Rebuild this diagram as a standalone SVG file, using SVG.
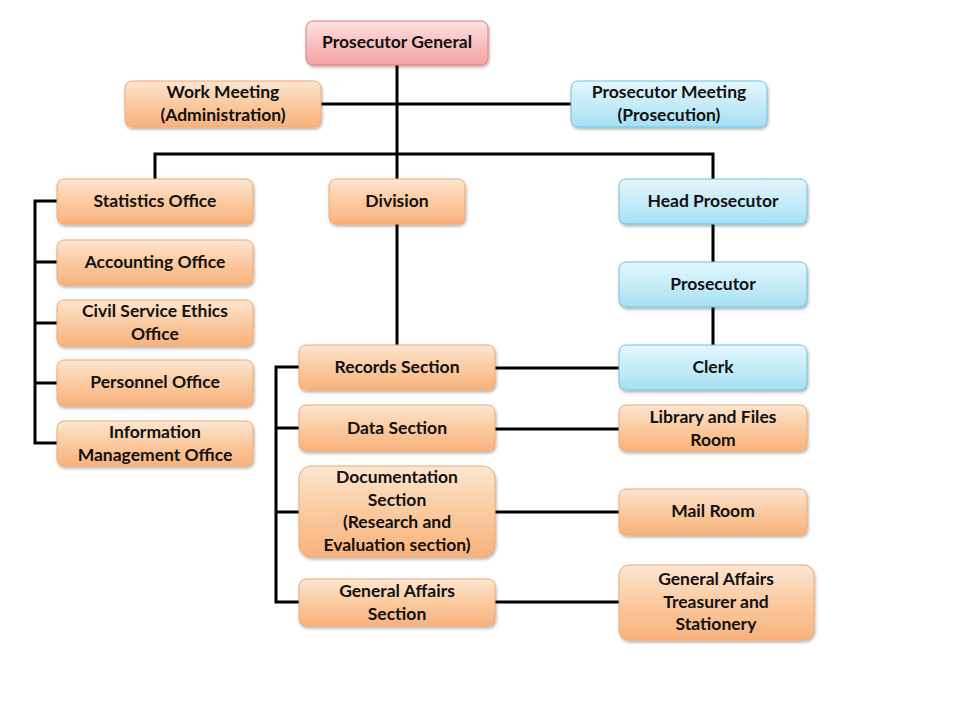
<svg xmlns="http://www.w3.org/2000/svg" width="960" height="720" viewBox="0 0 960 720">
<defs>
<linearGradient id="gO" x1="0" y1="0" x2="0" y2="1"><stop offset="0" stop-color="#fde6d2"/><stop offset="0.5" stop-color="#fbcaa0"/><stop offset="1" stop-color="#f8b27c"/></linearGradient>
<linearGradient id="gB" x1="0" y1="0" x2="0" y2="1"><stop offset="0" stop-color="#e4f6fc"/><stop offset="0.5" stop-color="#c6ecf8"/><stop offset="1" stop-color="#a6e0f3"/></linearGradient>
<linearGradient id="gP" x1="0" y1="0" x2="0" y2="1"><stop offset="0" stop-color="#fde2e2"/><stop offset="0.5" stop-color="#f9c0c0"/><stop offset="1" stop-color="#f4a2a2"/></linearGradient>
<filter id="sh" x="-10%" y="-20%" width="120%" height="150%"><feDropShadow dx="1" dy="2" stdDeviation="1.5" flood-color="#000" flood-opacity="0.3"/></filter>
</defs>
<style>
.o{fill:url(#gO);stroke:#f0a86e;stroke-width:1}
.b{fill:url(#gB);stroke:#6cc3e2;stroke-width:1}
.p{fill:url(#gP);stroke:#e37b7b;stroke-width:1}
.n rect{filter:url(#sh)}
text{font-family:Lato,"Open Sans","Liberation Sans",sans-serif;font-weight:bold;font-size:17.5px;fill:#111;text-anchor:middle}
.c{stroke:#000;stroke-width:3;fill:none}
</style>
<g id="connectors">
<path class="c" d="M397 65V345"/>
<path class="c" d="M321 104H571"/>
<path class="c" d="M155 179V154H713V179"/>
<path class="c" d="M713 224V262M713 307V345"/>
<path class="c" d="M57 201H35V443H57M35 262H57M35 323H57M35 383H57"/>
<path class="c" d="M299 367H276V602H299M276 428H299M276 512H299"/>
<path class="c" d="M495 368H619M495 429H619M495 512H619M495 602H619"/>
</g>
<g id="prosecutor-general" class="n"><rect class="p" x="306" y="21" width="182" height="44" rx="7"/><text x="397" y="48">Prosecutor General</text></g>
<g id="work-meeting" class="n"><rect class="o" x="125" y="81" width="196" height="46" rx="7"/><text x="223" y="98">Work Meeting</text><text x="223" y="121">(Administration)</text></g>
<g id="prosecutor-meeting" class="n"><rect class="b" x="571" y="81" width="196" height="46" rx="7"/><text x="669" y="98">Prosecutor Meeting</text><text x="669" y="121">(Prosecution)</text></g>
<g id="statistics-office" class="n"><rect class="o" x="57" y="179" width="196" height="45" rx="7"/><text x="155" y="207">Statistics Office</text></g>
<g id="accounting-office" class="n"><rect class="o" x="57" y="240" width="196" height="45" rx="7"/><text x="155" y="268">Accounting Office</text></g>
<g id="civil-service-ethics-office" class="n"><rect class="o" x="57" y="300" width="196" height="46" rx="7"/><text x="155" y="317">Civil Service Ethics</text><text x="155" y="340">Office</text></g>
<g id="personnel-office" class="n"><rect class="o" x="57" y="360" width="196" height="46" rx="7"/><text x="155" y="388">Personnel Office</text></g>
<g id="information-management-office" class="n"><rect class="o" x="57" y="421" width="196" height="45" rx="7"/><text x="155" y="438">Information</text><text x="155" y="461">Management Office</text></g>
<g id="division" class="n"><rect class="o" x="329" y="179" width="136" height="45" rx="7"/><text x="397" y="207">Division</text></g>
<g id="head-prosecutor" class="n"><rect class="b" x="619" y="179" width="188" height="45" rx="7"/><text x="713" y="207">Head Prosecutor</text></g>
<g id="prosecutor" class="n"><rect class="b" x="619" y="262" width="188" height="45" rx="7"/><text x="713" y="290">Prosecutor</text></g>
<g id="clerk" class="n"><rect class="b" x="619" y="345" width="188" height="45" rx="7"/><text x="713" y="373">Clerk</text></g>
<g id="records-section" class="n"><rect class="o" x="299" y="345" width="196" height="45" rx="7"/><text x="397" y="373">Records Section</text></g>
<g id="data-section" class="n"><rect class="o" x="299" y="405" width="196" height="46" rx="7"/><text x="397" y="434">Data Section</text></g>
<g id="documentation-section" class="n"><rect class="o" x="299" y="466" width="196" height="91" rx="12"/><text x="397" y="483">Documentation</text><text x="397" y="506">Section</text><text x="397" y="528">(Research and</text><text x="397" y="551">Evaluation section)</text></g>
<g id="general-affairs-section" class="n"><rect class="o" x="299" y="579" width="196" height="47" rx="7"/><text x="397" y="597">General Affairs</text><text x="397" y="620">Section</text></g>
<g id="library-and-files-room" class="n"><rect class="o" x="619" y="405" width="188" height="46" rx="7"/><text x="713" y="423">Library and Files</text><text x="713" y="446">Room</text></g>
<g id="mail-room" class="n"><rect class="o" x="619" y="489" width="188" height="46" rx="7"/><text x="713" y="517">Mail Room</text></g>
<g id="general-affairs-treasurer" class="n"><rect class="o" x="619" y="565" width="195" height="75" rx="10"/><text x="716" y="585">General Affairs</text><text x="716" y="608">Treasurer and</text><text x="716" y="630">Stationery</text></g>
</svg>
